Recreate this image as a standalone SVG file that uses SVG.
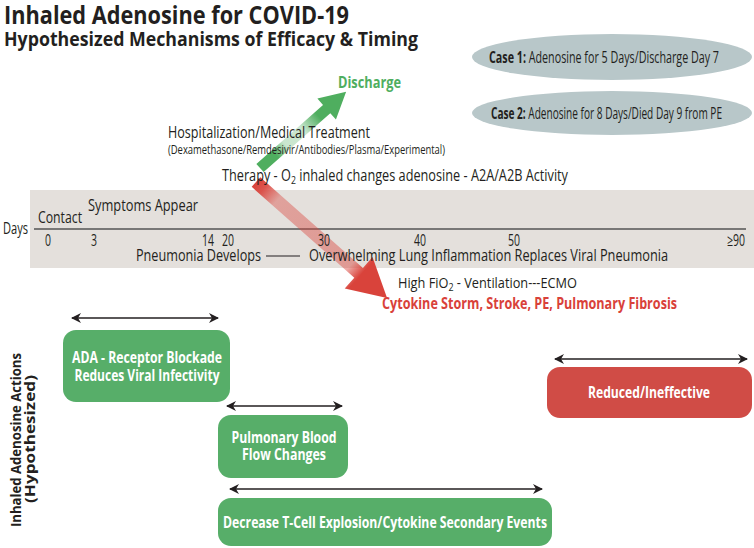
<svg xmlns="http://www.w3.org/2000/svg" width="754" height="548" viewBox="0 0 754 548">
<style>
text{font-family:"Open Sans","Liberation Sans",sans-serif;fill:#231f20}
.b{font-weight:bold}
.t1{font-size:25px;font-weight:bold}
.t2{font-size:20px;font-weight:bold}
.c{font-size:16px}
.m{font-size:16px}
.s{font-size:13.5px}
.w{fill:#fff;font-size:15.5px;font-weight:bold;text-anchor:middle}
.g{fill:#57ae69}
.r{fill:#d04c46}
.dbl{stroke:#231f20;stroke-width:1.6;fill:none;marker-start:url(#ah);marker-end:url(#ah)}
</style>
<defs>
<marker id="ah" viewBox="0 0 10 10" refX="9" refY="5" markerUnits="userSpaceOnUse" markerWidth="11" markerHeight="10" orient="auto-start-reverse">
<path d="M0,0 L10,5 L0,10 L3,5 z" fill="#231f20"/>
</marker>
<linearGradient id="gg" x1="0" y1="0" x2="1" y2="0">
<stop offset="0" stop-color="#4fae5f" stop-opacity="1"/>
<stop offset="0.18" stop-color="#4fae5f" stop-opacity="1"/>
<stop offset="0.3" stop-color="#4fae5f" stop-opacity="0.3"/>
<stop offset="0.5" stop-color="#4fae5f" stop-opacity="0.3"/>
<stop offset="0.68" stop-color="#4fae5f" stop-opacity="1"/>
<stop offset="1" stop-color="#4fae5f" stop-opacity="1"/>
</linearGradient>
<linearGradient id="rg" x1="0" y1="0" x2="1" y2="0">
<stop offset="0" stop-color="#d9433b" stop-opacity="1"/>
<stop offset="0.06" stop-color="#d9433b" stop-opacity="0.9"/>
<stop offset="0.16" stop-color="#d9433b" stop-opacity="0.4"/>
<stop offset="0.72" stop-color="#d9433b" stop-opacity="0.45"/>
<stop offset="0.8" stop-color="#d9433b" stop-opacity="1"/>
<stop offset="1" stop-color="#d9433b" stop-opacity="1"/>
</linearGradient>
</defs>

<g id="title">
<text class="t1" x="4" y="24" textLength="345" lengthAdjust="spacingAndGlyphs">Inhaled Adenosine for COVID-19</text>
<text class="t2" x="4" y="46" textLength="414" lengthAdjust="spacingAndGlyphs">Hypothesized Mechanisms of Efficacy &amp; Timing</text>
</g>

<g id="case1">
<ellipse cx="612" cy="57" rx="140" ry="23" fill="#b8c7c9"/>
<text class="c" x="489" y="63" textLength="230" lengthAdjust="spacingAndGlyphs"><tspan class="b">Case 1:</tspan> Adenosine for 5 Days/Discharge Day 7</text>
</g>
<g id="case2">
<ellipse cx="612" cy="113" rx="140" ry="22" fill="#b8c7c9"/>
<text class="c" x="491" y="119" textLength="231" lengthAdjust="spacingAndGlyphs"><tspan class="b">Case 2:</tspan> Adenosine for 8 Days/Died Day 9 from PE</text>
</g>

<g id="timeline">
<rect x="30" y="190" width="724" height="78" fill="#e4e0dc"/>
<line x1="34" y1="229" x2="746" y2="229" stroke="#555" stroke-width="1.5"/>
</g>

<g id="connectors">
<polygon points="0,-5.5 89,-5.5 89,-14 115,0 89,14 89,5.5 0,5.5" fill="url(#gg)" transform="translate(260,168) rotate(-41.5)"/>
<polygon points="0,-6.5 137,-6.5 137,-21 175,0 137,21 137,6.5 0,6.5" fill="url(#rg)" transform="translate(256,182) rotate(41.5)"/>
<line class="dbl" x1="72" y1="318" x2="218" y2="318"/>
<line class="dbl" x1="227" y1="406" x2="342" y2="406"/>
<line class="dbl" x1="230" y1="489" x2="542" y2="489"/>
<line class="dbl" x1="555" y1="359" x2="747" y2="359"/>
</g>

<g id="discharge">
<text class="b" font-size="15.5" x="338" y="88" textLength="63" lengthAdjust="spacingAndGlyphs" style="fill:#4fae5f">Discharge</text>
</g>

<g id="hospitalization">
<text class="m" x="168" y="138" textLength="202" lengthAdjust="spacingAndGlyphs">Hospitalization/Medical Treatment</text>
<text class="s" x="168" y="154" textLength="277" lengthAdjust="spacingAndGlyphs">(Dexamethasone/Remdesivir/Antibodies/Plasma/Experimental)</text>
</g>

<g id="therapy">
<text class="m" x="222" y="181" textLength="346" lengthAdjust="spacingAndGlyphs">Therapy - O<tspan font-size="11" dy="3">2</tspan><tspan dy="-3"> inhaled changes adenosine - A2A/A2B Activity</tspan></text>
</g>

<g id="timeline-labels">
<text class="c" x="3" y="234" textLength="25" lengthAdjust="spacingAndGlyphs">Days</text>
<text class="c" x="38" y="223" textLength="44" lengthAdjust="spacingAndGlyphs">Contact</text>
<text class="c" x="88" y="211" textLength="110" lengthAdjust="spacingAndGlyphs">Symptoms Appear</text>
<text class="c" x="45" y="246" textLength="6" lengthAdjust="spacingAndGlyphs">0</text>
<text class="c" x="91" y="246" textLength="6" lengthAdjust="spacingAndGlyphs">3</text>
<text class="c" x="202" y="246" textLength="12" lengthAdjust="spacingAndGlyphs">14</text>
<text class="c" x="222" y="246" textLength="12" lengthAdjust="spacingAndGlyphs">20</text>
<text class="c" x="318" y="246" textLength="12" lengthAdjust="spacingAndGlyphs">30</text>
<text class="c" x="414" y="246" textLength="12" lengthAdjust="spacingAndGlyphs">40</text>
<text class="c" x="508" y="246" textLength="12" lengthAdjust="spacingAndGlyphs">50</text>
<text class="c" x="727" y="246" textLength="18" lengthAdjust="spacingAndGlyphs">≥90</text>
<text class="c" x="136" y="261" textLength="125" lengthAdjust="spacingAndGlyphs">Pneumonia Develops</text>
<line x1="266" y1="256" x2="300" y2="256" stroke="#231f20" stroke-width="1"/>
<text class="c" x="309" y="261" textLength="359" lengthAdjust="spacingAndGlyphs">Overwhelming Lung Inflammation Replaces Viral Pneumonia</text>
</g>

<g id="outcome">
<text font-size="15" x="398" y="288" textLength="179" lengthAdjust="spacingAndGlyphs">High FiO<tspan font-size="10.5" dy="3">2</tspan><tspan dy="-3"> - Ventilation---ECMO</tspan></text>
<text class="b" font-size="15.5" x="382" y="309" textLength="295" lengthAdjust="spacingAndGlyphs" style="fill:#d9413a">Cytokine Storm, Stroke, PE, Pulmonary Fibrosis</text>
</g>

<g id="actions-label">
<text class="b" font-size="14" transform="translate(21,440) rotate(-90)" text-anchor="middle" textLength="174" lengthAdjust="spacingAndGlyphs">Inhaled Adenosine Actions</text>
<text class="b" font-size="14" transform="translate(35,439) rotate(-90)" text-anchor="middle" textLength="128" lengthAdjust="spacingAndGlyphs">(Hypothesized)</text>
</g>

<g id="box-ada">
<rect class="g" x="63" y="330" width="167" height="72" rx="13"/>
<text class="w" x="147" y="363" textLength="150" lengthAdjust="spacingAndGlyphs">ADA - Receptor Blockade</text>
<text class="w" x="147" y="381" textLength="145" lengthAdjust="spacingAndGlyphs">Reduces Viral Infectivity</text>
</g>

<g id="box-pulmonary">
<rect class="g" x="218" y="415" width="130" height="63" rx="13"/>
<text class="w" x="284" y="443" textLength="105" lengthAdjust="spacingAndGlyphs">Pulmonary Blood</text>
<text class="w" x="284" y="460" textLength="84" lengthAdjust="spacingAndGlyphs">Flow Changes</text>
</g>

<g id="box-tcell">
<rect class="g" x="218" y="498" width="334" height="48" rx="13"/>
<text class="w" x="385" y="528" textLength="324" lengthAdjust="spacingAndGlyphs">Decrease T-Cell Explosion/Cytokine Secondary Events</text>
</g>

<g id="box-reduced">
<rect class="r" x="547" y="367" width="205" height="51" rx="13"/>
<text class="w" x="649" y="398" textLength="122" lengthAdjust="spacingAndGlyphs">Reduced/Ineffective</text>
</g>
</svg>
